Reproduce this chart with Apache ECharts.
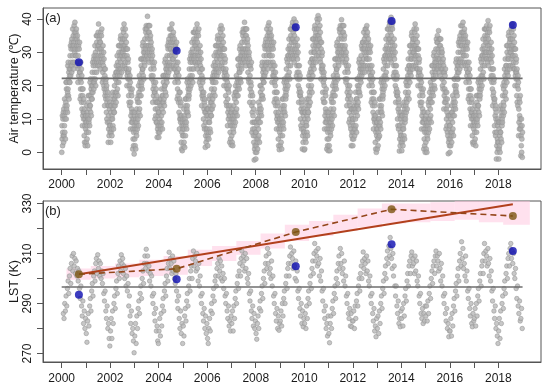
<!DOCTYPE html>
<html><head><meta charset="utf-8">
<script src="https://cdn.jsdelivr.net/npm/echarts@6/dist/echarts.min.js"></script>
<style>html,body{margin:0;padding:0;background:#fff}#c{width:550px;height:390px}</style>
</head><body><div id="c"></div>
<script>
// ---- Panel (a): daily air temperature, 10 samples per month, degC ----
const air2000 = [0,8,4,11,2,6,10,5,12,3, 13,5,11,8,16,6,10,14,4,12, 15,21,10,19,13,21,14,17,12,18, 26,19,27,17,22,24,16,25,21,23, 21,29,25,32,23,27,31,26,33,24, 34,26,32,29,37,27,31,35,25,33, 32,38,27,36,30,39,31,34,29,35, 36,29,37,27,32,34,26,35,31,33, 21,29,25,32,23,27,31,26,33,24, 24,16,22,19,27,17,21,25,15,23, 13,19,8,17,11,19,12,15,10,16, 12,5,13,3,8,10,2,11,7,9];
const air2001 = [11,3,9,6,14,4,8,12,2,10, 11,17,6,15,9,17,10,13,8,14, 21,14,22,12,17,19,11,20,16,18, 16,24,20,27,18,22,26,21,28,19, 29,21,27,24,32,22,26,30,20,28, 29,35,24,33,27,35,28,31,26,32, 36,29,38.5,27,32,34,26,35,31,33, 25,33,29,36,27,31,35,30,37,28, 29,21,27,24,32,22,26,30,20,28, 19,25,14,23,17,25,18,21,16,22, 19,12,20,10,15,17,9,18,14,16, 3,11,7,14,5,9,13,8,15,6];
const air2002 = [8,14,3,12,6,14,7,10,5,11, 17,10,18,8,13,15,7,16,12,14, 12,20,16,23,14,18,22,17,24,15, 26,18,24,21,29,19,23,27,17,25, 26,32,21,30,24,32,25,28,23,29, 34,27,35,25,30,32,24,33,29,31, 26,34,30,37,28,32,36,31,38.5,29, 34,26,32,29,37,27,31,35,25,33, 25,31,20,29,23,31,24,27,22,28, 24,17,25,15,20,22,14,23,19,21, 7,15,11,18,9,13,17,12,19,10, 9,1,7,4,12,2,6,10,-0.5,8];
const air2003 = [11,4,12,2,7,9,1,10,6,8, 5,13,9,16,7,11,15,10,17,8, 20,12,18,15,23,13,17,21,11,19, 22,28,17,26,20,28,21,24,19,25, 32,25,33,23,28,30,22,31,27,29, 26,34,30,37,28,32,36,31,38,29, 37,29,35,32,40.8,30,34,38,28,36, 32,38,27,36,30,38,31,34,29,35, 32,25,33,23,28,30,22,31,27,29, 15,23,19,26,17,21,25,20,27,18, 18,10,16,13,21,11,15,19,9,17, 9,15,4.5,13,7,15,8,11,6,12];
const air2004 = [4.5,12,8,15,6,10,14,9,16,7, 16,8,14,11,19,9,13,17,7,15, 17,23,12,21,15,23,16,19,14,20, 27,20,28,18,23,25,17,26,22,24, 21,29,25,32,23,27,31,26,33,24, 34,26,32,29,37,27,31,35,25,33, 31,37,26,35,29,38.5,30,33,28,34, 35,28,36,26,31,33,25,34,30,32, 21,29,25,32,23,27,31,26,33,24, 24,16,22,19,27,17,21,25,15,23, 12,18,7,16,10,18,11,14,9,15, 10,3,11,1,6,8,0.5,9,5,7];
const air2005 = [10,2,8,5,13,3,7,11,1.5,9, 10,16,5,14,8,16,9,12,7,13, 21,14,22,12,17,19,11,20,16,18, 17,25,21,28,19,23,27,22,29,20, 30,22,28,25,33,23,27,31,21,29, 30,36,25,34,28,36,29,32,27,33, 36,29,37,27,32,34,26,35,31,38.5, 25,33,29,36,27,31,35,30,37,28, 29,21,27,24,32,22,26,30,20,28, 19,25,14,23,17,25,18,21,16,22, 17,10,18,8,13,15,7,16,12,14, 1.5,9,5,12,3,7,11,6,13,4];
const air2006 = [7,13,2,11,5,13,6,9,4,10, 16,9,17,7,12,14,6,15,11,13, 11,19,15,22,13,17,21,16,23,14, 26,18,24,21,29,19,23,27,17,25, 26,32,21,30,24,32,25,28,23,29, 34,27,35,25,30,32,24,33,29,31, 26,34,30,37,28,32,36,31,38,29, 34,26,32,29,37,27,31,35,25,33, 25,31,20,29,23,31,24,27,22,28, 24,17,25,15,20,22,14,23,19,21, 8,16,12,19,10,14,18,13,20,11, 11,3,9,6,14,4,8,12,2.2,10];
const air2007 = [12,5,13,3,8,10,2,11,7,9, 6,14,10,17,8,12,16,11,18,9, 20,12,18,15,23,13,17,21,11,19, 22,28,17,26,20,28,21,24,19,25, 31,24,32,22,27,29,21,30,26,28, 25,33,29,36,27,31,35,30,37,28, 36,28,34,31,39,29,33,37,27,35, 31,37,26,35,29,37,30,33,28,34, 31,24,32,22,27,29,21,30,26,28, 15,23,19,26,17,21,25,20,27,18, 14,6,12,9,17,7,11,15,5,13, 3,9,-2.3,7,1,9,2,5,0,6];
const air2008 = [-2,6,2,9,0,4,8,3,10,1, 12,4,10,7,15,5,9,13,3,11, 14,20,9,18,12,20,13,16,11,17, 26,19,27,17,22,24,16,25,21,23, 21,29,25,32,23,27,31,26,33,24, 34,26,32,29,37,27,31,35,25,33, 32,38,27,36,30,38.9,31,34,29,35, 36,29,37,27,32,34,26,35,31,33, 21,29,25,32,23,27,31,26,33,24, 23,15,21,18,26,16,20,24,14,22, 12,18,7,16,10,18,11,14,9,15, 11,4,12,2,7,9,0.8,10,6,8];
const air2009 = [10,2,8,5,13,3,7,11,1,9, 10,16,5,14,8,16,9,12,7,13, 21,14,22,12,17,19,11,20,16,18, 17,25,21,28,19,23,27,22,29,20, 31,23,29,26,34,24,28,32,22,30, 31,37,26,35,29,37,30,33,28,34, 38,31,39,29,34,36,28,37,33,40, 27,35,31,38,29,33,37,32,39,30, 31,23,29,26,34,24,28,32,22,30, 20,26,15,24,18,26,19,22,17,23, 17,10,18,8,13,15,7,16,12,14, 1,9,5,12,3,7,11,6,13,0.7];
const air2010 = [6,12,1,10,4,12,5,8,3,9, 15,8,16,6,11,13,5,14,10,12, 12,20,16,23,14,18,22,17,24,15, 27,19,25,22,30,20,24,28,18,26, 28,34,23,32,26,34,27,30,25,31, 37,30,38,28,33,35,27,36,32,34, 29,37,33,40,31,35,39,34,41,32, 37,29,35,32,40,30,34,38,28,36, 27,33,22,31,25,33,26,29,24,30, 25,18,26,16,21,23,15,24,20,22, 7,15,11,18,9,13,17,12,19,10, 9,1,7,4,12,2,6,10,0.5,8];
const air2011 = [11,4,12,2,7,9,0.5,10,6,8, 5,13,9,16,7,11,15,10,17,8, 20,12,18,15,23,13,17,21,11,19, 22,28,17,26,20,28,21,24,19,25, 32,25,33,23,28,30,22,31,27,29, 26,34,30,37,28,32,36,31,38,29, 37,29,35,32,39.8,30,34,38,28,36, 32,38,27,36,30,38,31,34,29,35, 31,24,32,22,27,29,21,30,26,28, 14,22,18,25,16,20,24,19,26,17, 17,9,15,12,20,10,14,18,8,16, 7,13,2,11,5,13,6,9,4,10];
const air2012 = [2,10,6,13,4,8,12,7,14,5, 15,7,13,10,18,8,12,16,6,14, 16,22,11,20,14,22,15,18,13,19, 27,20,28,18,23,25,17,26,22,24, 21,29,25,32,23,27,31,26,33,24, 33,25,31,28,36,26,30,34,24,32, 31,37,26,35,29,37,30,33,28,38, 35,28,36,26,31,33,25,34,30,32, 20,28,24,31,22,26,30,25,32,23, 23,15,21,18,26,16,20,24,14,22, 12,18,7,16,10,18,11,14,9,15, 10,3,11,1,6,8,0,9,5,7];
const air2013 = [9,1,7,4,12,2,6,10,4.5,8, 10,16,5,14,8,16,9,12,7,13, 21,14,22,12,17,19,11,20,16,18, 17,25,21,28,19,23,27,22,29,20, 31,23,29,26,34,24,28,32,22,30, 31,37,26,35,29,37,30,33,28,34, 38,31,39,29,34,36,28,37,33,40.5, 27,35,31,38,29,33,37,32,39,30, 31,23,29,26,34,24,28,32,22,30, 20,26,15,24,18,26,19,22,17,23, 17,10,18,8,13,15,7,16,12,14, 0.4,8,4,11,2,6,10,5,12,3];
const air2014 = [5,11,0.5,9,3,11,4,7,2,8, 14,7,15,5,10,12,4,13,9,11, 10,18,14,21,12,16,20,15,22,13, 25,17,23,20,28,18,22,26,16,24, 26,32,21,30,24,32,25,28,23,29, 35,28,36,26,31,33,25,34,30,32, 26,34,30,37,28,32,36,31,38.5,29, 34,26,32,29,37,27,31,35,25,33, 25,31,20,29,23,31,24,27,22,28, 24,17,25,15,20,22,14,23,19,21, 7,15,11,18,9,13,17,12,19,10, 9,1,7,4,12,2,6,10,0,8];
const air2015 = [10,3,11,1,6,8,0,9,5,7, 4,12,8,15,6,10,14,9,16,7, 18,10,16,13,21,11,15,19,9,17, 20,26,15,24,18,26,19,22,17,23, 29,22,30,20,25,27,19,28,24,26, 23,31,27,34,25,29,33,28,35,26, 33,25,31,28,36.5,26,30,34,24,32, 28,34,23,32,26,34,27,30,25,31, 29,22,30,20,25,27,19,28,24,26, 13,21,17,24,15,19,23,18,25,16, 15,7,13,10,18,8,12,16,6,14, 5,11,-0.4,9,3,11,4,7,2,8];
const air2016 = [0,8,4,11,2,6,10,5,12,3, 14,6,12,9,17,7,11,15,5,13, 16,22,11,20,14,22,15,18,13,19, 27,20,28,18,23,25,17,26,22,24, 22,30,26,33,24,28,32,27,34,25, 35,27,33,30,38,28,32,36,26,34, 32,38,27,36,30,39,31,34,29,35, 36,29,37,27,32,34,26,35,31,33, 21,29,25,32,23,27,31,26,33,24, 24,16,22,19,27,17,21,25,15,23, 13,19,8,17,11,19,12,15,10,16, 12,5,13,3,8,10,2.4,11,7,9];
const air2017 = [11,3,9,6,14,4,8,12,2,10, 11,17,6,15,9,17,10,13,8,14, 21,14,22,12,17,19,11,20,16,18, 17,25,21,28,19,23,27,22,29,20, 31,23,29,26,34,24,28,32,22,30, 31,37,26,35,29,37,30,33,28,34, 37,30,38,28,33,35,27,36,32,39.5, 26,34,30,37,28,32,36,31,38,29, 30,22,28,25,33,23,27,31,21,29, 19,25,14,23,17,25,18,21,16,22, 15,8,16,6,11,13,5,14,10,12, -2,6,2,9,0,4,8,3,10,1];
const air2018 = [3,9,-2,7,1,9,2,5,0,6, 13,6,14,4,9,11,3,12,8,10, 9,17,13,20,11,15,19,14,21,12, 25,17,23,20,28,18,22,26,16,24, 26,32,21,30,24,32,25,28,23,29, 35,28,36,26,31,33,25,34,30,32, 26,34,30,37,28,32,36,31,38.5,29, 34,26,32,29,37,27,31,35,25,33, 25,31,20,29,23,31,24,27,22,28, 24,17,25,15,20,22,14,23,19,21, 5,13,9,16,7,11,15,10,17,8, 7,-1,5,2,10,0,4,8,-1.5,6];

// ---- Panel (b): land surface temperature, 3 samples per month, K ----
const lst2000 = [null,null,286, 284,290,287, 293,289,296, 299,294,301, 304,298,306, 309,303,310, 305,308,302, 307,301,304, 299,303,296, 292,297,289, 285,291,282, 287,280,284];
const lst2001 = [278,274.5,283, 286,281,289, 292,287,295, 298,293,301, 303,299,306, 308,302,309.5, 304,307,301, 306,300,303, 298,302,294, 291,295,287, 284,289,280, 282,276,273];
const lst2002 = [279,284,276, 287,282,290, 293,288,296, 299,294,302, 305,300,307, 303,309.5,306, 308,302,305, 300,304,297, 301,295,298, 289,293,285, 282,287,278, 280,275,270.3];
const lst2003 = [277,282,274, 285,280,288, 291,286,294, 297,292,300, 303,298,306, 309,304,311.7, 306,309,303, 305,299,302, 297,301,293, 290,294,286, 283,288,279, 281,275,274];
const lst2004 = [279,284,277, 286,281,289, 292,287,295, 298,293,301, 304,299,306, 310.5,304,308, 306,302,309, 303,307,300, 298,302,295, 291,288,293, 284,280,287, 278,282,274];
const lst2005 = [281,277,285, 288,283,291, 294,289,297, 300,295,303, 305,300,308, 311,305,309, 307,303,310, 304,299,306, 297,301,293, 290,294,286, 283,288,280, 285,278,282];
const lst2006 = [276,274,280, 284,279,287, 290,286,293, 296,291,299, 301,297,304, 306,301,308, 303,307,300, 305,299,302, 296,300,293, 290,294,287, 284,289,281, 283,279,285];
const lst2007 = [282,287,279, 289,284,292, 295,290,298, 301,296,303, 306,301,308, 311,305,309, 307,303,310, 304,308,300, 298,302,294, 291,295,287, 284,289,281, 286,280,283];
const lst2008 = [278,275.7,282, 285,280,288, 291,287,294, 297,292,300, 303,298,306, 309,304,312, 306,310,302, 304,300,307, 297,301,293, 290,294,286, 283,288,280, 285,279.3,282];
const lst2009 = [283,287,281, 290,285,292, 295,290,298, 301,296,304, 306,301,309, 312.6,306,310, 308,304,311, 305,300,307, 299,303,295, 292,296,288, 285,290,282, 287,280.7,284];
const lst2010 = [282,286,280, 289,284,292, 295,290,298, 301,296,304, 307,302,310, 314,307,311, 309,305,312, 306,301,308, 299,303,295, 291,296,287, 284,289,280, 282,277,285];
const lst2011 = [278,274.3,282, 285,280,288, 291,286,294, 297,292,300, 303,298,306, 309,304,312, 306,310,302, 304,299,307, 297,301,293, 290,294,286, 284,288,281, 286,280.7,283];
const lst2012 = [283,287,280, 289,284,291, 294,289,297, 300,295,302, 305,300,307, 310.6,304,308, 306,302,309, 303,307,299, 297,301,293, 290,294,286, 283,288,279, 281,276.7,284];
const lst2013 = [280,285,278, 287,282,290, 293,288,296, 299,294,302, 305,300,308, 311,306,313, 309,316.4,312, 308,304,310, 301,305,297, 293,297,289, 286,291,282, 284,280.7,287];
const lst2014 = [284,288,281, 290,285,293, 296,291,299, 302,297,305, 307,302,309, 310.6,305,308, 306,302,309, 303,307,299, 297,301,293, 290,294,286, 284,288,282, 286,283,289];
const lst2015 = [285,289,283, 291,286,294, 297,292,300, 303,298,305, 307,302,309, 311,305,309, 307,303,310, 304,299,306, 297,301,293, 290,294,286, 283,288,280, 282,276.7,279];
const lst2016 = [279,284,277, 286,281,289, 292,287,295, 298,293,301, 304,299,307, 310,305,314.7, 308,312,304, 306,301,309, 299,303,295, 292,296,288, 285,290,282, 280.7,286,283];
const lst2017 = [284,288,281, 290,285,293, 296,291,299, 302,297,305, 307,302,310, 314,307,311, 309,305,312, 306,301,308, 299,303,295, 291,296,287, 284,289,280, 282,277,274];
const lst2018 = [279,284,276, 287,282,290, 293,288,296, 299,294,302, 305,300,308, 310,305,312, 314,308,311, 306,310,302, 300,304,296, 292,297,289, 286,291,283, 284,288,280];

const years = [2000,2001,2002,2003,2004,2005,2006,2007,2008,2009,2010,2011,2012,2013,2014,2015,2016,2017,2018];
const airMean = 22.2;
const lstMean = 296.6;
const meanSpan = [2000, 2019];

// highlighted dates (blue = observed, brown = other estimate)
const eventX   = [2000.71, 2004.74, 2009.65, 2013.6, 2018.6];
const airBlue  = [27.0, 30.5, 37.5, 39.4, 38.2];
const lstBlue  = [293.5, 299.7, 304.9, 313.7, 311.0];
const lstBrown = [301.7, 303.9, 318.6, 327.7, 325.0];
const trendX = [2000.71, 2018.6];
const trendY = [301.7, 329.7];

// pink confidence band steps
const bandStart = [2000.2,2001.2,2002.2,2003.2,2004.2,2005.2,2006.2,2007.2,2008.2,2009.2,2010.2,2011.2,2012.2,2013.2,2014.2,2015.2,2016.2,2017.2,2018.2];
const bandEnd   = [2001.2,2002.2,2003.2,2004.2,2005.2,2006.2,2007.2,2008.2,2009.2,2010.2,2011.2,2012.2,2013.2,2014.2,2015.2,2016.2,2017.2,2018.2,2019.3];
const bandLow   = [299.5,300,300.5,301,301.5,305,307,309.5,312,315,317,319,320.5,322,322.5,323,323.5,322.5,321.5];
const bandHigh  = [304,305,306,307.5,309,311.5,313,315,318,321.5,323,325.5,328,330,330,330.5,331,331,331];

const xTicks = [2000,2001,2002,2003,2004,2005,2006,2007,2008,2009,2010,2011,2012,2013,2014,2015,2016,2017,2018];
const xLabels = [2000,2002,2004,2006,2008,2010,2012,2014,2016,2018];
const airTicks = [0,10,20,30,40];
const lstTicks = [270,280,290,300,310,320,330];
const lstLabels = [270,290,310,330];

// ---- build series data ----
const airYears = [air2000,air2001,air2002,air2003,air2004,air2005,air2006,air2007,air2008,air2009,air2010,air2011,air2012,air2013,air2014,air2015,air2016,air2017,air2018];
const lstYears = [lst2000,lst2001,lst2002,lst2003,lst2004,lst2005,lst2006,lst2007,lst2008,lst2009,lst2010,lst2011,lst2012,lst2013,lst2014,lst2015,lst2016,lst2017,lst2018];
const airData = [], lstData = [];
years.forEach((y, k) => {
  const a = airYears[k];
  a.forEach((v, i) => airData.push([y + (i + 0.5) / a.length, v]));
  const l = lstYears[k];
  l.forEach((v, i) => { if (v !== null) lstData.push([y + (i + 0.5) / l.length, v]); });
});
const bandData = bandStart.map((s, i) => [s, bandEnd[i], bandLow[i], bandHigh[i]]);

const FONT = '"Liberation Sans", Arial, sans-serif';
const TXT = '#1a1a1a';
const BOX = '#555555';

function xAxisDef(gi, margin) {
  return {
    type: 'value', gridIndex: gi, min: 1999.23, max: 2019.76,
    splitLine: { show: false },
    axisLine: { show: true, onZero: false, lineStyle: { color: BOX, width: 1 } },
    axisTick: { show: true, length: 6, customValues: xTicks, lineStyle: { color: BOX, width: 1 } },
    axisLabel: { customValues: xLabels, margin: margin, fontSize: 12, fontFamily: FONT, color: TXT, formatter: v => String(v) }
  };
}
function yAxisDef(gi, min, max, ticks, name) {
  return {
    type: 'value', gridIndex: gi, min: min, max: max,
    name: name, nameLocation: 'middle', nameGap: 22,
    nameTextStyle: { fontSize: 12.5, fontFamily: FONT, color: TXT },
    splitLine: { show: false },
    axisLine: { show: true, onZero: false, lineStyle: { color: BOX, width: 1 } },
    axisTick: { show: true, length: 6, customValues: ticks, lineStyle: { color: BOX, width: 1 } },
    axisLabel: { show: false }
  };
}

const chart = echarts.init(document.getElementById('c'), null, { renderer: 'canvas' });
chart.setOption({
  animation: false,
  backgroundColor: '#fff',
  grid: [
    { left: 42, top: 8, width: 499, height: 161, show: true, borderColor: BOX, borderWidth: 1, backgroundColor: 'transparent' },
    { left: 42, top: 201, width: 499, height: 161, show: true, borderColor: BOX, borderWidth: 1, backgroundColor: 'transparent' }
  ],
  xAxis: [xAxisDef(0, 10), xAxisDef(1, 11)],
  yAxis: [
    yAxisDef(0, -5, 43.3, airTicks, 'Air temperature (\u2103)'),
    yAxisDef(1, 266.6, 331.0, lstTicks, 'LST (K)')
  ],
  series: [
    { type: 'scatter', xAxisIndex: 0, yAxisIndex: 0, data: airData, symbolSize: 5,
      itemStyle: { color: '#aaaaaa', borderColor: '#8f8f8f', borderWidth: 0.5 }, z: 2 },
    { type: 'line', xAxisIndex: 0, yAxisIndex: 0, data: meanSpan.map(x => [x, airMean]), symbol: 'none',
      lineStyle: { color: '#6e6e6e', width: 1.6 }, z: 3 },
    { type: 'scatter', xAxisIndex: 0, yAxisIndex: 0, data: eventX.map((x, i) => [x, airBlue[i]]), symbolSize: 8,
      itemStyle: { color: '#0b0bb0' }, z: 5 },

    { type: 'custom', xAxisIndex: 1, yAxisIndex: 1, data: bandData, z: 1,
      renderItem: function (params, api) {
        const p1 = api.coord([api.value(0), api.value(3)]);
        const p2 = api.coord([api.value(1), api.value(2)]);
        const r = echarts.graphic.clipRectByRect(
          { x: p1[0], y: p1[1], width: p2[0] - p1[0], height: p2[1] - p1[1] },
          { x: params.coordSys.x, y: params.coordSys.y, width: params.coordSys.width, height: params.coordSys.height });
        return r && { type: 'rect', shape: r, style: { fill: 'rgba(255,196,222,0.5)' } };
      } },
    { type: 'scatter', xAxisIndex: 1, yAxisIndex: 1, data: lstData, symbolSize: 4.5,
      itemStyle: { color: '#b9b9b9', borderColor: '#939393', borderWidth: 0.7 }, z: 2 },
    { type: 'line', xAxisIndex: 1, yAxisIndex: 1, data: meanSpan.map(x => [x, lstMean]), symbol: 'none',
      lineStyle: { color: '#6e6e6e', width: 1.6 }, z: 3 },
    { type: 'line', xAxisIndex: 1, yAxisIndex: 1, data: trendX.map((x, i) => [x, trendY[i]]), symbol: 'none',
      lineStyle: { color: '#b2401c', width: 1.8 }, z: 4 },
    { type: 'line', xAxisIndex: 1, yAxisIndex: 1, data: eventX.map((x, i) => [x, lstBrown[i]]), symbol: 'none',
      lineStyle: { color: '#94461a', width: 1.6, type: [6, 4] }, z: 4 },
    { type: 'scatter', xAxisIndex: 1, yAxisIndex: 1, data: eventX.map((x, i) => [x, lstBrown[i]]), symbolSize: 8,
      itemStyle: { color: '#7c5512' }, z: 5 },
    { type: 'scatter', xAxisIndex: 1, yAxisIndex: 1, data: eventX.map((x, i) => [x, lstBlue[i]]), symbolSize: 8,
      itemStyle: { color: '#0b0bb0' }, z: 5 }
  ]
});

// rotated y tick labels placed through the axis scales
const labelStyle = { fontSize: 12, fontFamily: FONT, fill: TXT, align: 'center', verticalAlign: 'middle' };
const axisPx = chart.convertToPixel({ xAxisIndex: 0 }, 1999.23);
const graphics = [
  { type: 'text', left: 45, top: 12, style: { text: '(a)', fontSize: 13, fontFamily: FONT, fill: '#222' } },
  { type: 'text', left: 45, top: 205, style: { text: '(b)', fontSize: 13, fontFamily: FONT, fill: '#222' } }
];
airTicks.forEach(v => graphics.push({ type: 'text', x: axisPx - 15, y: chart.convertToPixel({ yAxisIndex: 0 }, v),
  rotation: Math.PI / 2, style: Object.assign({ text: String(v) }, labelStyle) }));
lstLabels.forEach(v => graphics.push({ type: 'text', x: axisPx - 15, y: chart.convertToPixel({ yAxisIndex: 1 }, v),
  rotation: Math.PI / 2, style: Object.assign({ text: String(v) }, labelStyle) }));
chart.setOption({ graphic: graphics });
</script></body></html>
